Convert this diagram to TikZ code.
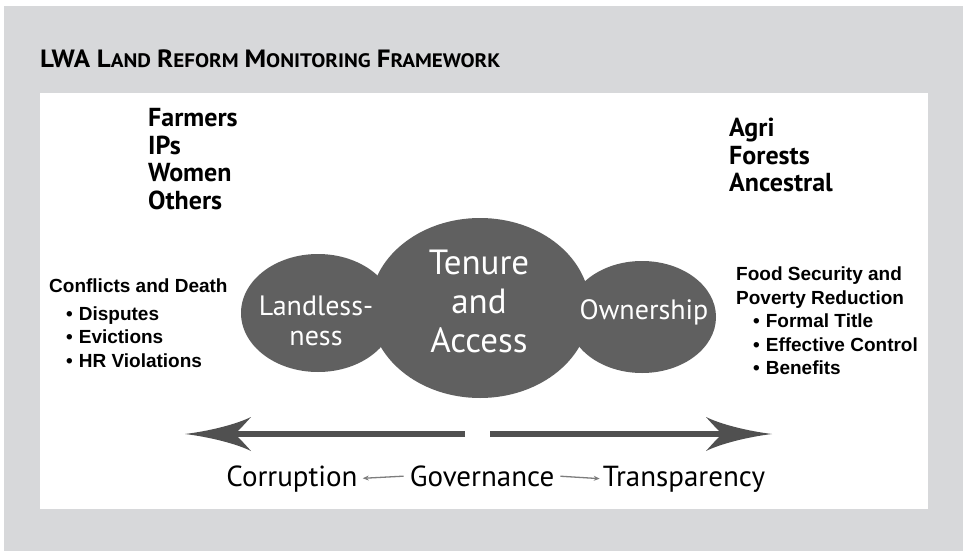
\documentclass[tikz,border=0pt]{standalone}
\usepackage{fontspec}
\setmainfont{Liberation Sans}
\newfontfamily\ptsans{PT Sans}
\newfontfamily\titlefont[FakeStretch=1.08]{PT Sans}
\usetikzlibrary{arrows.meta,shapes.geometric}
\definecolor{bggrey}{RGB}{215,216,218}
\definecolor{blobgrey}{RGB}{96,96,96}
\definecolor{arrowgrey}{RGB}{80,80,80}
\definecolor{thinarrow}{RGB}{125,125,125}
\newcommand\tbig[1]{{\fontsize{25}{25}\selectfont #1}}
\newcommand\tsml[1]{{\fontsize{19.5}{20}\selectfont #1}}
\tikzset{
  blob/.style={ellipse, fill=blobgrey, draw=none, inner sep=0},
  blobtext/.style={text=white, font=\ptsans\fontsize{28}{29.5}\selectfont, align=center, inner sep=0},
  bigblobtext/.style={text=white, font=\ptsans\fontsize{35}{39}\selectfont, align=center, inner sep=0},
  grouptext/.style={font=\ptsans\bfseries\fontsize{26}{27.5}\selectfont, align=left, anchor=west, inner sep=0},
  listtext/.style={font=\bfseries\fontsize{19}{23.5}\selectfont, align=left, anchor=west, inner sep=0},
  govtext/.style={font=\ptsans\fontsize{29}{30}\selectfont, inner sep=0, anchor=base},
  shaft/.style={draw=arrowgrey, line width=5.5pt},
  thinarr/.style={draw=thinarrow, line width=1.3pt, -{Stealth[length=6pt,width=5pt]}},
  pics/bighead/.style={code={
    \fill[arrowgrey] (0,0) .. controls (25,-3) and (52,-10) .. (66,-17)
      .. controls (58,-8) and (53,-3) .. (50,0)
      .. controls (53,3) and (58,8) .. (66,17)
      .. controls (52,10) and (25,3) .. (0,0) -- cycle;
  }},
}
\begin{document}
\begin{tikzpicture}[x=1pt,y=-1pt]
\useasboundingbox (0,0) rectangle (963,551);
\fill[white] (0,0) rectangle (963,551);
\fill[bggrey] (4,6) rectangle (963,551);
\fill[white] (40,93) rectangle (928,509);

\node[anchor=base west, inner sep=0, font=\titlefont\bfseries] (title) at (40,67)
  {\tbig{LWA L}\tsml{AND}\hspace{6pt}\tbig{R}\tsml{EFORM}\hspace{6pt}\tbig{M}\tsml{ONITORING}\hspace{6pt}\tbig{F}\tsml{RAMEWORK}};

% blobs
\node[blob, minimum width=154, minimum height=118] (land) at (318,313) {};
\node[blob, minimum width=148, minimum height=112] (own) at (642,317) {};
\node[blob, minimum width=220, minimum height=180] (tenure) at (480,308) {};
\node[blobtext] (landt) at (316,321) {Landless-\\ness};
\node[bigblobtext] (tenuret) at (479,301) {Tenure\\and\\Access};
\node[blobtext] (ownt) at (644,312) {Ownership};

% groups
\node[grouptext] (groups) at (148,159) {Farmers\\IPs\\Women\\Others};
\node[grouptext] (lands) at (729,155) {Agri\\Forests\\Ancestral};

% lists
\node[listtext] (conflicts) at (49,323) {Conflicts and Death\\[4pt]
  \hspace*{17pt}\textbullet\hspace{6pt}Disputes\\
  \hspace*{17pt}\textbullet\hspace{6pt}Evictions\\
  \hspace*{17pt}\textbullet\hspace{6pt}HR Violations};
\node[listtext] (food) at (736,321) {Food Security and\\Poverty Reduction\\
  \hspace*{17pt}\textbullet\hspace{6pt}Formal Title\\
  \hspace*{17pt}\textbullet\hspace{6pt}Effective Control\\
  \hspace*{17pt}\textbullet\hspace{6pt}Benefits};

% big arrows
\coordinate (ltip) at (185,434);
\coordinate (lstart) at (465,434);
\coordinate (lneck) at (232,434);
\coordinate (rtip) at (772,434);
\coordinate (rstart) at (490,434);
\coordinate (rneck) at (725,434);
\draw[shaft] (lstart) -- (lneck);
\draw[shaft] (rstart) -- (rneck);
\pic at (ltip) {bighead};
\pic[xscale=-1] at (rtip) {bighead};

% governance line
\node[govtext] (cor) at (292,486) {Corruption};
\node[govtext] (gov) at (482,486) {Governance};
\node[govtext] (tra) at (684,486) {Transparency};
\draw[thinarr, shorten <=6pt, shorten >=5pt] (gov.west) -- (cor.east);
\draw[thinarr, shorten <=6pt, shorten >=3pt] (gov.east) -- (tra.west);
\end{tikzpicture}
\end{document}
